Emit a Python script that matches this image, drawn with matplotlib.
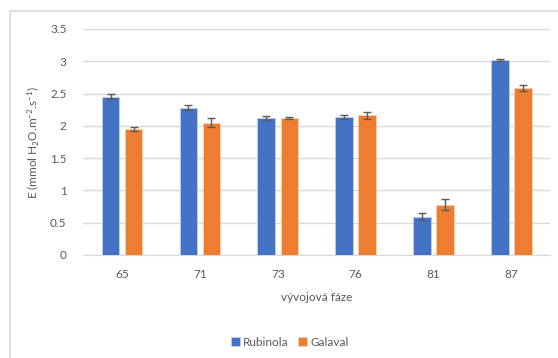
import matplotlib.pyplot as plt
import numpy as np
from matplotlib.patches import Rectangle

phases = ["65", "71", "73", "76", "81", "87"]
rubinola = [2.45, 2.28, 2.12, 2.14, 0.59, 3.02]
rubinola_err = [0.04, 0.035, 0.035, 0.035, 0.055, 0.01]
galaval = [1.95, 2.05, 2.12, 2.16, 0.78, 2.59]
galaval_err = [0.03, 0.075, 0.01, 0.06, 0.085, 0.045]

plt.rcParams['font.family'] = ['Lato', 'DejaVu Sans']
plt.rcParams['mathtext.fontset'] = 'custom'
plt.rcParams['mathtext.rm'] = 'Lato'
plt.rcParams['mathtext.it'] = 'Lato'
plt.rcParams['mathtext.default'] = 'regular'
txt = '#595959'

fig = plt.figure(figsize=(5.58, 3.58), dpi=100)
ax = fig.add_axes([0.149, 0.288, 0.837, 0.631])

# chart frame (cropped at right and bottom like the reference)
fig.patches.append(Rectangle((10/558, -0.1), 1.2, 1 - 11/358 + 0.1, transform=fig.transFigure,
                             fill=False, edgecolor='#d9d9d9', linewidth=1.2))

x = np.arange(len(phases))
w = 0.225
off = 0.148
ekw = dict(ecolor='#595959', elinewidth=1.0, capsize=2.8, capthick=1.0)
ax.bar(x - off, rubinola, w, color='#4472C4', edgecolor='#c7d3ee', linewidth=0.5,
       yerr=rubinola_err, error_kw=ekw, label='Rubinola', zorder=3)
ax.bar(x + off, galaval, w, color='#ED7D31', edgecolor='#f8d4bd', linewidth=0.5,
       yerr=galaval_err, error_kw=ekw, label='Galaval', zorder=3)

ax.set_xlim(-0.5, len(phases) - 0.5)
ax.set_ylim(0, 3.5)
ax.set_yticks(np.arange(0, 3.51, 0.5))
ax.set_yticklabels(["0", "0.5", "1", "1.5", "2", "2.5", "3", "3.5"])
ax.set_xticks(x)
ax.set_xticklabels(phases)
ax.tick_params(axis='both', length=0, labelsize=8.5, colors=txt)
ax.tick_params(axis='y', pad=12)
ax.tick_params(axis='x', pad=10)
ax.grid(axis='y', color='#d9d9d9', linewidth=1.0, zorder=0)
for s in ['top', 'right', 'left']:
    ax.spines[s].set_visible(False)
ax.spines['bottom'].set_color('#d9d9d9')

ax.set_xlabel("vývojová fáze", fontsize=8.5, color=txt, labelpad=9)
fig.text(33/558, 1 - 142/358, "E (mmol H$_{2}$O.m$^{-2}$.s$^{-1}$)", rotation=90,
         fontsize=8.5, color=txt, ha='center', va='center')

fig.legend(loc='center', bbox_to_anchor=(290/558, 1 - 342/358), ncol=2, frameon=False,
           fontsize=8.5, labelcolor=txt, handlelength=0.7, handleheight=0.7,
           handletextpad=0.3, columnspacing=0.8)

fig.savefig("out.png", dpi=100)
